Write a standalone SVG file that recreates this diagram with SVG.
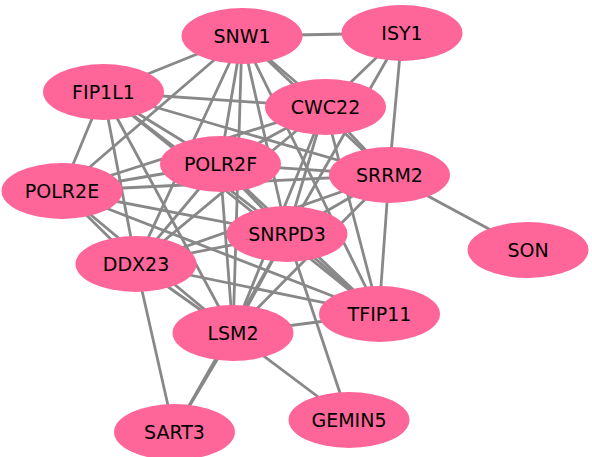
<svg xmlns="http://www.w3.org/2000/svg" width="592" height="457" viewBox="0 0 592 457">
<style>
.e{stroke:#888888;stroke-width:2.8;fill:none}
.n ellipse{fill:#fe6699}
.n text{font-family:"DejaVu Sans",sans-serif;font-size:19px;fill:#000;text-anchor:middle}
</style>
<rect width="592" height="457" fill="#fff"/>
<g id="edges">
<line class="e" x1="242" y1="36" x2="402" y2="33"/>
<line class="e" x1="242" y1="36" x2="103" y2="92"/>
<line class="e" x1="242" y1="36" x2="325" y2="107"/>
<line class="e" x1="242" y1="36" x2="389" y2="175"/>
<line class="e" x1="242" y1="36" x2="62" y2="191"/>
<line class="e" x1="242" y1="36" x2="136" y2="264"/>
<line class="e" x1="242" y1="36" x2="220" y2="164"/>
<line class="e" x1="242" y1="36" x2="287" y2="234"/>
<line class="e" x1="242" y1="36" x2="233" y2="333"/>
<line class="e" x1="242" y1="36" x2="379" y2="314"/>
<line class="e" x1="402" y1="33" x2="325" y2="107"/>
<line class="e" x1="402" y1="33" x2="287" y2="234"/>
<line class="e" x1="402" y1="33" x2="389" y2="175"/>
<line class="e" x1="389" y1="175" x2="379" y2="314"/>
<line class="e" x1="389" y1="175" x2="528" y2="250"/>
<line class="e" x1="103" y1="92" x2="325" y2="107"/>
<line class="e" x1="103" y1="92" x2="62" y2="191"/>
<line class="e" x1="103" y1="92" x2="220" y2="164"/>
<line class="e" x1="103" y1="92" x2="136" y2="264"/>
<line class="e" x1="103" y1="92" x2="233" y2="333"/>
<line class="e" x1="103" y1="92" x2="287" y2="234"/>
<line class="e" x1="103" y1="92" x2="379" y2="314"/>
<line class="e" x1="103" y1="92" x2="389" y2="175"/>
<line class="e" x1="325" y1="107" x2="220" y2="164"/>
<line class="e" x1="325" y1="107" x2="389" y2="175"/>
<line class="e" x1="325" y1="107" x2="287" y2="234"/>
<line class="e" x1="325" y1="107" x2="379" y2="314"/>
<line class="e" x1="325" y1="107" x2="136" y2="264"/>
<line class="e" x1="325" y1="107" x2="233" y2="333"/>
<line class="e" x1="325" y1="107" x2="62" y2="191"/>
<line class="e" x1="220" y1="164" x2="62" y2="191"/>
<line class="e" x1="220" y1="164" x2="389" y2="175"/>
<line class="e" x1="220" y1="164" x2="287" y2="234"/>
<line class="e" x1="220" y1="164" x2="136" y2="264"/>
<line class="e" x1="220" y1="164" x2="233" y2="333"/>
<line class="e" x1="220" y1="164" x2="379" y2="314"/>
<line class="e" x1="62" y1="191" x2="389" y2="175"/>
<line class="e" x1="62" y1="191" x2="287" y2="234"/>
<line class="e" x1="62" y1="191" x2="136" y2="264"/>
<line class="e" x1="62" y1="191" x2="233" y2="333"/>
<line class="e" x1="62" y1="191" x2="379" y2="314"/>
<line class="e" x1="389" y1="175" x2="287" y2="234"/>
<line class="e" x1="389" y1="175" x2="136" y2="264"/>
<line class="e" x1="389" y1="175" x2="233" y2="333"/>
<line class="e" x1="287" y1="234" x2="136" y2="264"/>
<line class="e" x1="287" y1="234" x2="233" y2="333"/>
<line class="e" x1="287" y1="234" x2="379" y2="314"/>
<line class="e" x1="287" y1="234" x2="349" y2="420"/>
<line class="e" x1="287" y1="234" x2="174" y2="432"/>
<line class="e" x1="136" y1="264" x2="233" y2="333"/>
<line class="e" x1="136" y1="264" x2="379" y2="314"/>
<line class="e" x1="136" y1="264" x2="174" y2="432"/>
<line class="e" x1="233" y1="333" x2="379" y2="314"/>
<line class="e" x1="233" y1="333" x2="174" y2="432"/>
<line class="e" x1="233" y1="333" x2="349" y2="420"/>
</g>
<g id="SNW1" class="n"><ellipse cx="242" cy="36" rx="60.5" ry="28"/><text x="242" y="43">SNW1</text></g>
<g id="ISY1" class="n"><ellipse cx="402" cy="33" rx="60.5" ry="28"/><text x="402" y="40">ISY1</text></g>
<g id="FIP1L1" class="n"><ellipse cx="103.5" cy="92" rx="60.5" ry="28"/><text x="103.5" y="99">FIP1L1</text></g>
<g id="CWC22" class="n"><ellipse cx="325.5" cy="107" rx="60.5" ry="28"/><text x="325.5" y="114">CWC22</text></g>
<g id="POLR2F" class="n"><ellipse cx="220.5" cy="164" rx="60.5" ry="28"/><text x="220.5" y="171">POLR2F</text></g>
<g id="SRRM2" class="n"><ellipse cx="389.5" cy="175" rx="60.5" ry="28"/><text x="389.5" y="182">SRRM2</text></g>
<g id="POLR2E" class="n"><ellipse cx="62" cy="191" rx="60.5" ry="28"/><text x="62" y="198">POLR2E</text></g>
<g id="SNRPD3" class="n"><ellipse cx="287" cy="234" rx="60.5" ry="28"/><text x="287" y="241">SNRPD3</text></g>
<g id="SON" class="n"><ellipse cx="528" cy="250" rx="60.5" ry="28"/><text x="528" y="257">SON</text></g>
<g id="DDX23" class="n"><ellipse cx="136" cy="264" rx="60.5" ry="28"/><text x="136" y="271">DDX23</text></g>
<g id="TFIP11" class="n"><ellipse cx="379.5" cy="314" rx="60.5" ry="28"/><text x="379.5" y="321">TFIP11</text></g>
<g id="LSM2" class="n"><ellipse cx="233" cy="333" rx="60.5" ry="28"/><text x="233" y="340">LSM2</text></g>
<g id="SART3" class="n"><ellipse cx="174.5" cy="432" rx="60.5" ry="28"/><text x="174.5" y="439">SART3</text></g>
<g id="GEMIN5" class="n"><ellipse cx="349" cy="420" rx="60.5" ry="28"/><text x="349" y="427">GEMIN5</text></g>
</svg>
